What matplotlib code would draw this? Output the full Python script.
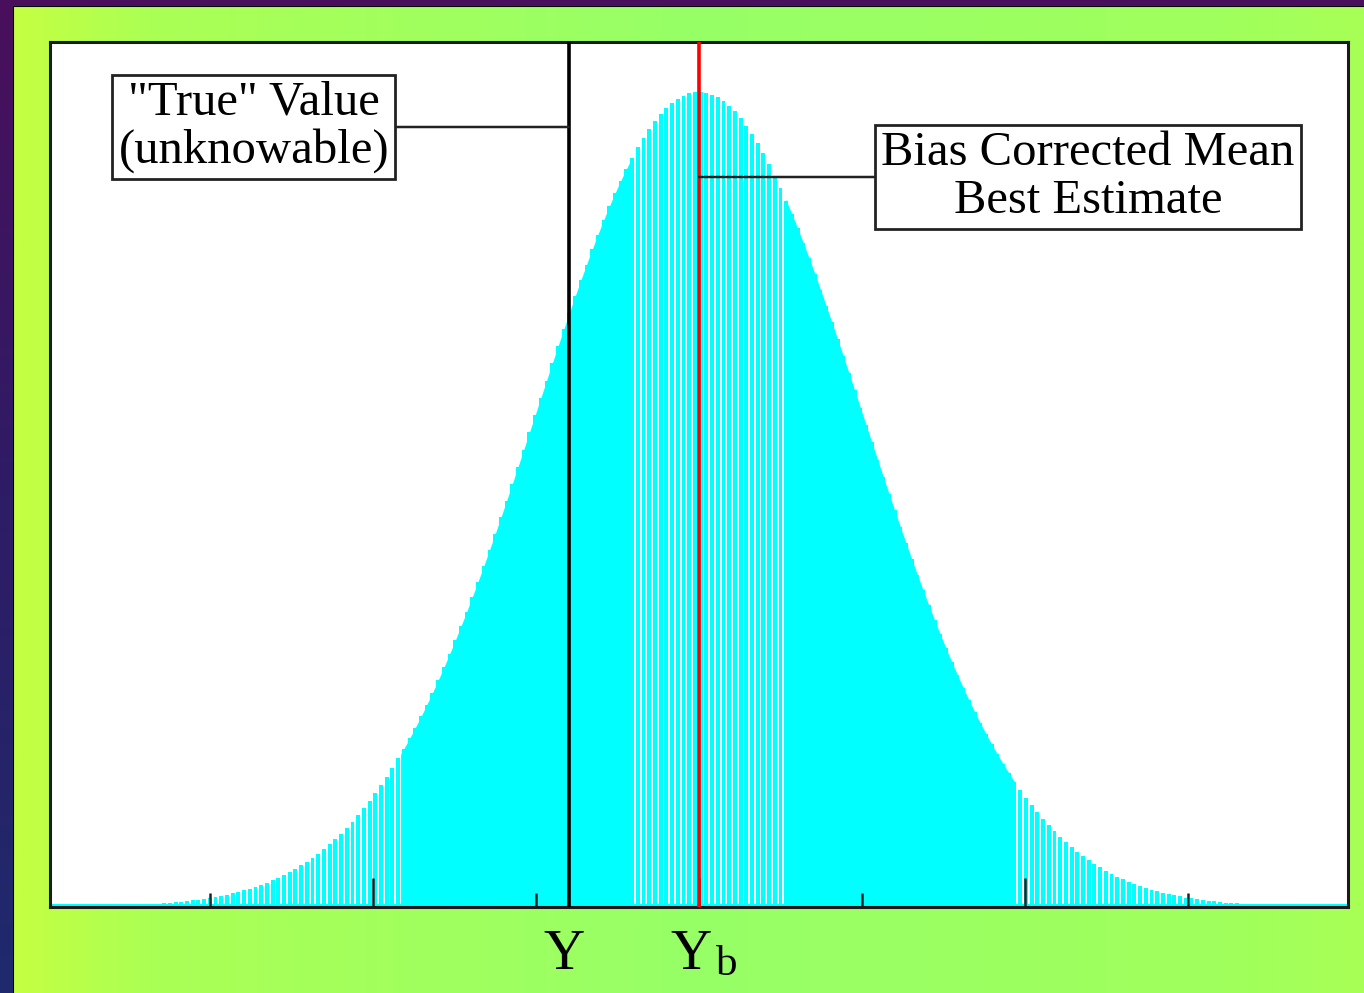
import numpy as np
import matplotlib
matplotlib.use("Agg")
import matplotlib.pyplot as plt
from matplotlib.colors import LinearSegmentedColormap
from matplotlib.ticker import FixedLocator
import matplotlib.transforms as mtransforms

plt.rcParams['font.family'] = ['Liberation Serif', 'DejaVu Serif']

# distribution of the estimate, in units of its standard deviation
mean_b = 0.0          # bias corrected mean, Yb
sigma = 1.0
true_value = -0.8     # "true" value, Y
x_lo, x_hi = -3.7, 3.7
bin_step = 0.035
# stretches of the curve where the bars are drawn touching
solid_ranges = [(-1.83, -0.42), (0.53, 1.94)]

major_ticks = [-2, 0, 2]
minor_ticks = [-3, -1, 1, 3]

label_true = '"True" Value\n(unknowable)'
label_mean = 'Bias Corrected Mean\nBest Estimate'

W, H = 1364, 993
fig = plt.figure(figsize=(W / 100, H / 100), dpi=100)

# dark outer border
bg = fig.add_axes([0, 0, 1, 1])
purple = LinearSegmentedColormap.from_list('p', ['#4a0f5c', '#2e1c66', '#1f2a6e'])
bg.imshow(np.linspace(0, 1, 256)[:, None], aspect='auto', cmap=purple,
          extent=[0, 1, 0, 1], origin='upper')
bg.set_axis_off()

# green frame
fx0, fy1 = 13 / W, 1 - 6 / H
fr = fig.add_axes([fx0, 0, 1 - fx0, fy1])
green = LinearSegmentedColormap.from_list(
    'g', [(0, '#c4ff42'), (0.1, '#abff54'), (0.5, '#97ff67'), (0.9, '#a0ff5c'), (1, '#a8ff56')])
gx = np.linspace(0, 1, 512)[None, :]
fr.imshow(gx, aspect='auto', cmap=green, extent=[0, 1, 0, 1])
fr.set_xlim(0, 1)
fr.set_ylim(0, 1)
fr.set_xticks([])
fr.set_yticks([])
for s in fr.spines.values():
    s.set_visible(False)
fr.plot([0, 0], [0, 1], color='black', lw=1.5)
fr.plot([0, 1], [1, 1], color='black', lw=1.5)

ax = fig.add_axes([50 / W, 1 - 907 / H, 1298 / W, 865 / H])
ax.set_facecolor('white')


def density(x):
    return np.exp(-0.5 * ((x - mean_b) / sigma) ** 2) / (sigma * np.sqrt(2 * np.pi))


centers = np.arange(x_lo, x_hi + 1e-9, bin_step)
heights = density(centers)
ax.bar(centers, heights, width=bin_step * 0.68, color='#00ffff', linewidth=0, zorder=1)
for a, b in solid_ranges:
    xs = np.linspace(a, b, 200)
    ax.fill_between(xs, 0, density(xs), color='#00ffff', linewidth=0, zorder=1)
ax.axhline(0.0012, color='#00ffff', lw=1.5, zorder=1)

peak = density(mean_b)
ax.set_xlim(-3.98, 3.98)
ax.set_ylim(0, peak * 865 / 815)

ax.axvline(true_value, color='black', lw=2.6, zorder=3)
ax.axvline(mean_b, color='#ff0000', lw=2.6, zorder=3)

ax.xaxis.set_major_locator(FixedLocator(major_ticks))
ax.xaxis.set_minor_locator(FixedLocator(minor_ticks))
ax.tick_params(axis='x', which='major', direction='in', length=21, width=1.8,
               color='#222222', labelbottom=False)
ax.tick_params(axis='x', which='minor', direction='in', length=10, width=1.8,
               color='#222222')
ax.set_yticks([])
for s in ax.spines.values():
    s.set_linewidth(2.2)
    s.set_color('#1a1a1a')

# labels under the axis
tb = mtransforms.blended_transform_factory(ax.transData, ax.transAxes)
ax.text(true_value - 0.03, -0.025, 'Y', transform=tb, ha='center', va='top',
        fontsize=41)
ax.text(mean_b - 0.05, -0.025, 'Y', transform=tb, ha='center', va='top',
        fontsize=41)
ax.text(mean_b + 0.17, -0.044, 'b', transform=tb, ha='center', va='top',
        fontsize=31)

# callout boxes with leader lines
box = dict(boxstyle='square,pad=0.13', fc='white', ec='#222222', lw=2)
ax.annotate(label_true, xy=(true_value, 1 - (127 - 42) / 865), xycoords=tb,
            xytext=((254 - 699) / 163, 1 - (127 - 42) / 865), textcoords=tb,
            ha='center', va='center', fontsize=35, linespacing=1.1, bbox=box,
            arrowprops=dict(arrowstyle='-', color='#222222', lw=1.8,
                            shrinkA=0, shrinkB=0))
ax.annotate(label_mean, xy=(mean_b, 1 - (177 - 42) / 865), xycoords=tb,
            xytext=((1088 - 699) / 163, 1 - (177 - 42) / 865), textcoords=tb,
            ha='center', va='center', fontsize=35, linespacing=1.1, bbox=box,
            arrowprops=dict(arrowstyle='-', color='#222222', lw=1.8,
                            shrinkA=0, shrinkB=0))

fig.savefig('out.png', dpi=100)
